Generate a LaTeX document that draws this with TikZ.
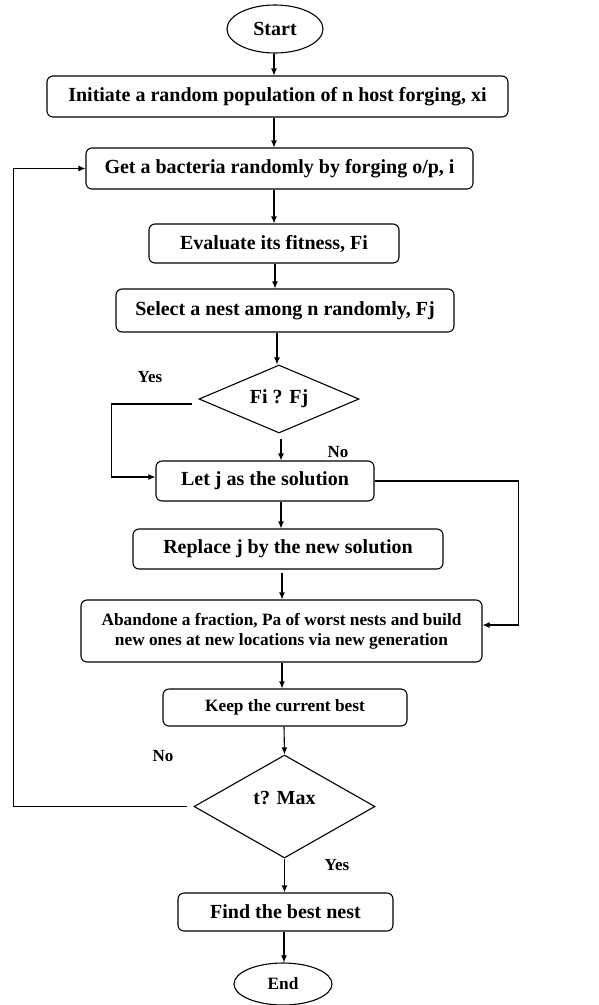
\documentclass[tikz,border=0pt]{standalone}
\usepackage{fontspec}
\setmainfont{Liberation Serif}
\usetikzlibrary{shapes.geometric,arrows.meta}
\begin{document}
\begin{tikzpicture}[x=1pt,y=-1pt,
  every node/.style={font=\bfseries\fontsize{20}{22}\selectfont, inner sep=0pt},
  box/.style={draw, line width=1.1pt, rounded corners=6pt, rectangle},
  oval/.style={draw, line width=1.1pt, ellipse},
  dia/.style={draw, line width=1.1pt, diamond, aspect=1},
  lbl/.style={font=\bfseries\fontsize{17}{19}\selectfont},
  arr/.style={line width=1.1pt, -{Latex[length=7pt,width=6pt]}},
  ln/.style={line width=1.1pt}]
\useasboundingbox (0,0) rectangle (598,1005);
\node[oval, minimum width=96, minimum height=48] (start) at (275,29) {Start};
\node[box, minimum width=461, minimum height=41] (init) at (277.5,96.5) {Initiate a random population of n host forging, xi};
\node[box, minimum width=387, minimum height=41] (get) at (279.5,168.5) {Get a bacteria randomly by forging o/p, i};
\node[box, minimum width=250, minimum height=39] (eval) at (274,243.5) {Evaluate its fitness, Fi};
\node[box, minimum width=338, minimum height=43] (sel) at (285,310.5) {Select a nest among n randomly, Fj};
\node[dia, minimum width=160, minimum height=68] (d1) at (279,399) {};
\node at (d1.center) {Fi ? Fj};
\node[box, minimum width=218, minimum height=40] (let) at (265,481) {Let j as the solution};
\node[box, minimum width=310, minimum height=40] (rep) at (288,549) {Replace j by the new solution};
\node[box, minimum width=401, minimum height=62, align=center, font=\bfseries\fontsize{17.3}{20}\selectfont] (ab) at (281.5,631) {Abandone a fraction, Pa of worst nests and build\\new ones at new locations via new generation};
\node[box, minimum width=244, minimum height=37, font=\bfseries\fontsize{17.3}{19}\selectfont] (keep) at (285,707.5) {Keep the current best};
\node[dia, minimum width=181, minimum height=103] (d2) at (284.5,806.5) {};
\node at ([yshift=8]d2.center) {t? Max};
\node[box, minimum width=215, minimum height=38] (find) at (285.5,912) {Find the best nest};
\node[oval, minimum width=98, minimum height=42, font=\bfseries\fontsize{17.3}{19}\selectfont] (end) at (283,984) {End};

\node[lbl] (yes1) at (150,377) {Yes};
\node[lbl] (no1) at (338,452) {No};
\node[lbl] (no2) at (163,756) {No};
\node[lbl] (yes2) at (337,865) {Yes};

\draw[arr] ([xshift=-1]start.south) -- ([xshift=-1]start.south |- init.north);
\draw[arr] ([xshift=-3.5]init.south) -- ([xshift=-3.5]init.south |- get.north);
\draw[arr] ([xshift=-5.5]get.south) -- ([xshift=-5.5]get.south |- eval.north);
\draw[arr] ([xshift=1]eval.south) -- ([xshift=1]eval.south |- sel.north);
\draw[arr] ([xshift=-8]sel.south) -- ([xshift=-8]sel.south |- d1.north);
\draw[arr] ([xshift=2,yshift=-5]d1.south) -- ([xshift=2]d1.south |- let.north);
\draw[arr] ([xshift=16]let.south) -- ([xshift=16]let.south |- rep.north);
\draw[arr] ([xshift=-6,yshift=-3]rep.south) -- ([xshift=-6]rep.south |- ab.north);
\draw[arr] ([xshift=0.5]ab.south) -- ([xshift=0.5]ab.south |- keep.north);
\draw[arr] ([xshift=-1]keep.south) -- (d2.north);
\draw[arr] (d2.south) -- (d2.south |- find.north);
\draw[arr] ([xshift=-1.5]find.south) -- ([xshift=-1.5]find.south |- end.north);

\draw[arr] ([xshift=-6,yshift=-5]d1.west) -- ++(-81,0) |- ([yshift=4]let.west);
\draw[arr] (let.east) -- ++(144,0) |- ([yshift=6]ab.east);
\draw[arr] ([xshift=-6]d2.west) -- ++(-174,0) |- (get.west);
\end{tikzpicture}
\end{document}
